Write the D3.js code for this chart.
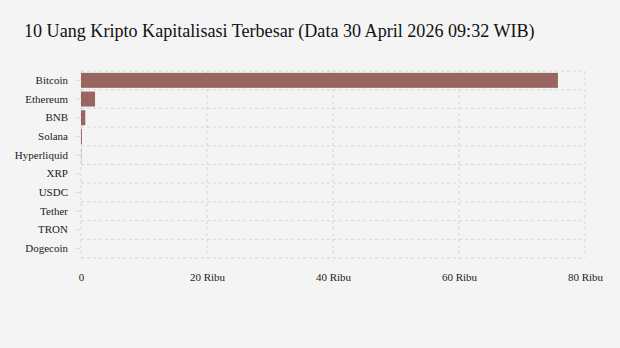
<!DOCTYPE html>
<html>
<head>
<meta charset="utf-8">
<script src="https://cdn.jsdelivr.net/npm/d3@7"></script>
<style>
  body { margin: 0; background: #f4f4f4; }
  svg { display: block; font-family: "Liberation Serif", "DejaVu Serif", serif; }
  svg text { font-family: "Liberation Serif", "DejaVu Serif", serif !important; }
</style>
</head>
<body>
<div id="chart"></div>
<script>
// Harga (USD) 10 uang kripto
const coins = ["Bitcoin", "Ethereum", "BNB", "Solana", "Hyperliquid", "XRP", "USDC", "Tether", "TRON", "Dogecoin"];
const prices = [75700, 2230, 680, 150, 40, 1.4, 1, 1, 0.33, 0.1];
const xTicks = [0, 20000, 40000, 60000, 80000];
const xTickLabels = ["0", "20 Ribu", "40 Ribu", "60 Ribu", "80 Ribu"];

let width = 620, height = 348;
let margin = {top: 71, right: 35, bottom: 90, left: 81};

const data = coins.map((c, i) => ({name: c, value: prices[i]}));

const svg = d3.select("#chart")
        .append("svg")
        .attr("width", width)
        .attr("height", height);

svg.append("rect")
        .attr("width", width)
        .attr("height", height)
        .attr("fill", "#f4f4f4");

// title
svg.append("text")
        .attr("x", 24)
        .attr("y", 37)
        .attr("font-size", 18.1)
        .attr("fill", "#111")
        .text("10 Uang Kripto Kapitalisasi Terbesar (Data 30 April 2026 09:32 WIB)");

const x = d3.scaleLinear()
        .domain([0, 80000])
        .range([margin.left, width - margin.right]);

const y = d3.scaleBand()
        .domain(coins)
        .range([margin.top, height - margin.bottom])
        .paddingInner(0.2)
        .paddingOuter(0.1);

const gridColor = "#dcdcdc";

// horizontal grid lines at band boundaries
const bounds = coins.map(c => y(c) - y.step() * y.paddingInner() / 2);
bounds.push(height - margin.bottom);
svg.append("g")
    .selectAll("line")
    .data(bounds)
    .enter()
        .append("line")
        .attr("x1", margin.left)
        .attr("x2", width - margin.right)
        .attr("y1", d => d)
        .attr("y2", d => d)
        .attr("stroke", gridColor)
        .attr("stroke-width", 1.3)
        .attr("stroke-dasharray", "3,3");

// vertical grid lines
svg.append("g")
    .selectAll("line")
    .data(xTicks)
    .enter()
        .append("line")
        .attr("x1", d => x(d))
        .attr("x2", d => x(d))
        .attr("y1", margin.top)
        .attr("y2", height - margin.bottom)
        .attr("stroke", gridColor)
        .attr("stroke-width", 1.3)
        .attr("stroke-dasharray", "3,3");

// bars
svg.append("g")
    .selectAll("rect")
    .data(data)
    .enter()
        .append("rect")
        .attr("x", x(0))
        .attr("y", d => y(d.name))
        .attr("width", d => x(d.value) - x(0))
        .attr("height", y.bandwidth())
        .attr("fill", "#98665e");

// y axis
const yAxis = svg.append("g")
        .attr("transform", "translate(" + (margin.left - 1) + ",0)")
        .call(d3.axisLeft(y).tickSize(5).tickPadding(7));
yAxis.select(".domain").remove();
yAxis.attr("font-size", 11);
yAxis.selectAll("line").attr("stroke", gridColor);
yAxis.selectAll("text").attr("fill", "#222");

// x axis
const xAxis = svg.append("g")
        .attr("transform", "translate(0," + (height - margin.bottom + 12) + ")")
        .call(d3.axisBottom(x).tickValues(xTicks).tickFormat((d, i) => xTickLabels[i]).tickSize(0));
xAxis.select(".domain").remove();
xAxis.attr("font-size", 11);
xAxis.selectAll("text").attr("fill", "#222");
</script>
</body>
</html>
